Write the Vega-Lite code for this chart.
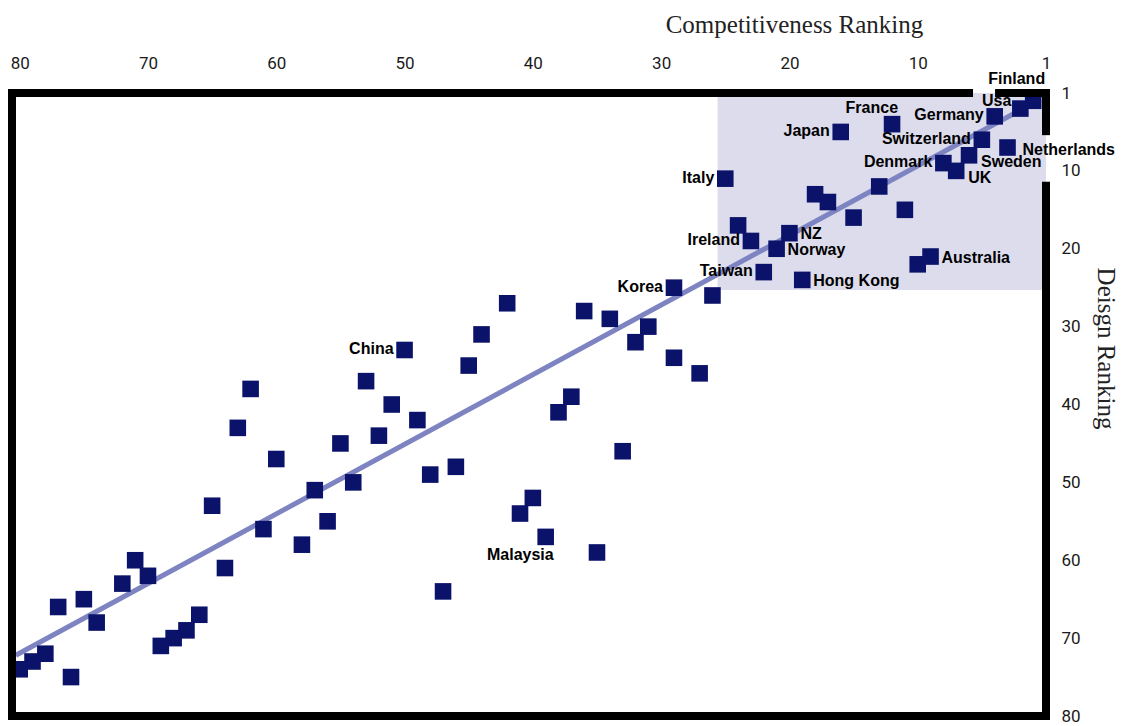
{
  "$schema": "https://vega.github.io/schema/vega-lite/v6.json",
  "width": 1034,
  "height": 623,
  "autosize": {"type": "none"},
  "padding": {"left": 12, "top": 93, "right": 76, "bottom": 10},
  "background": "white",
  "config": {"view": {"stroke": null}},
  "datasets": {
    "countries": [
      {"country": "Finland", "competitiveness": 1, "design": 1},
      {"country": "Usa", "competitiveness": 2, "design": 2},
      {"country": "Germany", "competitiveness": 4, "design": 3},
      {"country": "France", "competitiveness": 12, "design": 4},
      {"country": "Japan", "competitiveness": 16, "design": 5},
      {"country": "Switzerland", "competitiveness": 5, "design": 6},
      {"country": "Netherlands", "competitiveness": 3, "design": 7},
      {"country": "Sweden", "competitiveness": 6, "design": 8},
      {"country": "Denmark", "competitiveness": 8, "design": 9},
      {"country": "UK", "competitiveness": 7, "design": 10},
      {"country": "Italy", "competitiveness": 25, "design": 11},
      {"country": null, "competitiveness": 13, "design": 12},
      {"country": null, "competitiveness": 18, "design": 13},
      {"country": null, "competitiveness": 17, "design": 14},
      {"country": null, "competitiveness": 11, "design": 15},
      {"country": null, "competitiveness": 15, "design": 16},
      {"country": null, "competitiveness": 24, "design": 17},
      {"country": "NZ", "competitiveness": 20, "design": 18},
      {"country": "Ireland", "competitiveness": 23, "design": 19},
      {"country": "Norway", "competitiveness": 21, "design": 20},
      {"country": "Australia", "competitiveness": 9, "design": 21},
      {"country": null, "competitiveness": 10, "design": 22},
      {"country": "Taiwan", "competitiveness": 22, "design": 23},
      {"country": "Hong Kong", "competitiveness": 19, "design": 24},
      {"country": "Korea", "competitiveness": 29, "design": 25},
      {"country": null, "competitiveness": 26, "design": 26},
      {"country": null, "competitiveness": 42, "design": 27},
      {"country": null, "competitiveness": 36, "design": 28},
      {"country": null, "competitiveness": 34, "design": 29},
      {"country": null, "competitiveness": 31, "design": 30},
      {"country": null, "competitiveness": 44, "design": 31},
      {"country": null, "competitiveness": 32, "design": 32},
      {"country": "China", "competitiveness": 50, "design": 33},
      {"country": null, "competitiveness": 29, "design": 34},
      {"country": null, "competitiveness": 45, "design": 35},
      {"country": null, "competitiveness": 27, "design": 36},
      {"country": null, "competitiveness": 53, "design": 37},
      {"country": null, "competitiveness": 62, "design": 38},
      {"country": null, "competitiveness": 37, "design": 39},
      {"country": null, "competitiveness": 51, "design": 40},
      {"country": null, "competitiveness": 38, "design": 41},
      {"country": null, "competitiveness": 49, "design": 42},
      {"country": null, "competitiveness": 63, "design": 43},
      {"country": null, "competitiveness": 52, "design": 44},
      {"country": null, "competitiveness": 55, "design": 45},
      {"country": null, "competitiveness": 33, "design": 46},
      {"country": null, "competitiveness": 60, "design": 47},
      {"country": null, "competitiveness": 46, "design": 48},
      {"country": null, "competitiveness": 48, "design": 49},
      {"country": null, "competitiveness": 54, "design": 50},
      {"country": null, "competitiveness": 57, "design": 51},
      {"country": null, "competitiveness": 40, "design": 52},
      {"country": null, "competitiveness": 65, "design": 53},
      {"country": null, "competitiveness": 41, "design": 54},
      {"country": null, "competitiveness": 56, "design": 55},
      {"country": null, "competitiveness": 61, "design": 56},
      {"country": "Malaysia", "competitiveness": 39, "design": 57},
      {"country": null, "competitiveness": 58, "design": 58},
      {"country": null, "competitiveness": 35, "design": 59},
      {"country": null, "competitiveness": 71, "design": 60},
      {"country": null, "competitiveness": 64, "design": 61},
      {"country": null, "competitiveness": 70, "design": 62},
      {"country": null, "competitiveness": 72, "design": 63},
      {"country": null, "competitiveness": 47, "design": 64},
      {"country": null, "competitiveness": 75, "design": 65},
      {"country": null, "competitiveness": 77, "design": 66},
      {"country": null, "competitiveness": 66, "design": 67},
      {"country": null, "competitiveness": 74, "design": 68},
      {"country": null, "competitiveness": 67, "design": 69},
      {"country": null, "competitiveness": 68, "design": 70},
      {"country": null, "competitiveness": 69, "design": 71},
      {"country": null, "competitiveness": 78, "design": 72},
      {"country": null, "competitiveness": 79, "design": 73},
      {"country": null, "competitiveness": 80, "design": 74},
      {"country": null, "competitiveness": 76, "design": 75}
    ],
    "frame": [
      {"side": "top", "x1": 80.6, "x2": 6.0, "y1": 0, "y2": 0},
      {"side": "top", "x1": 3.66, "x2": 0, "y1": 0, "y2": 0},
      {"side": "right", "x1": 0, "x2": 0, "y1": 0, "y2": 4.9},
      {"side": "right", "x1": 0, "x2": 0, "y1": 11.9, "y2": 80},
      {"side": "bottom", "x1": 80.6, "x2": 0, "y1": 80, "y2": 80},
      {"side": "left", "x1": 80.6, "x2": 80.6, "y1": 0, "y2": 80}
    ]
  },
  "layer": [
    {
      "data": {"name": "countries"},
      "mark": {"type": "point", "shape": "square", "filled": true, "size": 275, "color": "#0a1269", "opacity": 0},
      "encoding": {
        "x": {
          "field": "competitiveness", "type": "quantitative",
          "scale": {"domain": [0, 80.6], "reverse": true, "nice": false, "zero": false},
          "axis": {
            "orient": "top", "values": [80, 70, 60, 50, 40, 30, 20, 10, 0],
            "labelExpr": "datum.value == 0 ? '1' : datum.label",
            "domain": false, "ticks": false, "tickSize": 0, "grid": false,
            "labelFont": "Roboto", "labelFontSize": 17, "labelColor": "#1a1a1a",
            "labelPadding": 21, "labelFlush": false, "labelOverlap": false,
            "title": "Competitiveness Ranking", "titleFont": "Liberation Serif", "titleFontSize": 25,
            "titleFontWeight": "normal", "titleColor": "#222222",
            "titleX": 782, "titleY": -61, "titleAlign": "center", "titleBaseline": "alphabetic"
          }
        },
        "y": {
          "field": "design", "type": "quantitative",
          "scale": {"domain": [0, 80], "reverse": true, "nice": false, "zero": false},
          "axis": {
            "orient": "right", "values": [0, 10, 20, 30, 40, 50, 60, 70, 80],
            "labelExpr": "datum.value == 0 ? '1' : datum.label",
            "domain": false, "ticks": false, "tickSize": 0, "grid": false,
            "labelFont": "Roboto", "labelFontSize": 17, "labelColor": "#1a1a1a",
            "labelPadding": 15, "labelFlush": false, "labelOverlap": false, "labelBaseline": "middle",
            "title": "Deisgn Ranking", "titleFont": "Liberation Serif", "titleFontSize": 25,
            "titleFontWeight": "normal", "titleColor": "#222222", "titleAngle": 90,
            "titleX": 59, "titleY": 255, "titleAlign": "center", "titleBaseline": "middle"
          }
        }
      }
    },
    {
      "data": {"values": [{}]},
      "mark": {"type": "rect", "color": "#dcdced"},
      "encoding": {
        "x": {"datum": 25.6, "type": "quantitative", "scale": {"domain": [0, 80.6], "reverse": true, "nice": false, "zero": false}},
        "x2": {"datum": 0},
        "y": {"datum": 0, "type": "quantitative", "scale": {"domain": [0, 80], "reverse": true, "nice": false, "zero": false}},
        "y2": {"datum": 25.3}
      }
    },
    {
      "data": {"values": [{}]},
      "mark": {"type": "rule", "color": "#7d84c1", "strokeWidth": 5},
      "encoding": {
        "x": {"datum": 80.3, "type": "quantitative", "scale": {"domain": [0, 80.6], "reverse": true, "nice": false, "zero": false}},
        "x2": {"datum": 1},
        "y": {"datum": 72.2, "type": "quantitative", "scale": {"domain": [0, 80], "reverse": true, "nice": false, "zero": false}},
        "y2": {"datum": 1.3}
      }
    },
    {
      "data": {"name": "countries"},
      "mark": {"type": "point", "shape": "square", "filled": true, "size": 275, "color": "#0a1269", "opacity": 1},
      "encoding": {
        "x": {"field": "competitiveness", "type": "quantitative", "scale": {"domain": [0, 80.6], "reverse": true, "nice": false, "zero": false}},
        "y": {"field": "design", "type": "quantitative", "scale": {"domain": [0, 80], "reverse": true, "nice": false, "zero": false}}
      }
    },
    {
      "data": {"name": "countries"},
      "transform": [{"filter": {"field": "country", "oneOf": ["Germany", "Japan", "Switzerland", "Denmark", "Italy", "Ireland", "Taiwan", "Korea", "China"]}}],
      "mark": {"type": "text", "align": "right", "baseline": "middle", "dx": -11, "dy": -1, "font": "Liberation Sans", "fontWeight": "bold", "fontSize": 16, "color": "#000000"},
      "encoding": {
        "x": {"field": "competitiveness", "type": "quantitative", "scale": {"domain": [0, 80.6], "reverse": true, "nice": false, "zero": false}},
        "y": {"field": "design", "type": "quantitative", "scale": {"domain": [0, 80], "reverse": true, "nice": false, "zero": false}},
        "text": {"field": "country"}
      }
    },
    {
      "data": {"name": "countries"},
      "transform": [{"filter": {"field": "country", "equal": "Usa"}}],
      "mark": {"type": "text", "align": "right", "baseline": "middle", "dx": -9, "dy": -8, "font": "Liberation Sans", "fontWeight": "bold", "fontSize": 16, "color": "#000000"},
      "encoding": {
        "x": {"field": "competitiveness", "type": "quantitative", "scale": {"domain": [0, 80.6], "reverse": true, "nice": false, "zero": false}},
        "y": {"field": "design", "type": "quantitative", "scale": {"domain": [0, 80], "reverse": true, "nice": false, "zero": false}},
        "text": {"field": "country"}
      }
    },
    {
      "data": {"name": "countries"},
      "transform": [{"filter": {"field": "country", "oneOf": ["NZ", "Norway", "Australia", "Hong Kong"]}}],
      "mark": {"type": "text", "align": "left", "baseline": "middle", "dx": 11, "dy": 1, "font": "Liberation Sans", "fontWeight": "bold", "fontSize": 16, "color": "#000000"},
      "encoding": {
        "x": {"field": "competitiveness", "type": "quantitative", "scale": {"domain": [0, 80.6], "reverse": true, "nice": false, "zero": false}},
        "y": {"field": "design", "type": "quantitative", "scale": {"domain": [0, 80], "reverse": true, "nice": false, "zero": false}},
        "text": {"field": "country"}
      }
    },
    {
      "data": {"name": "countries"},
      "transform": [{"filter": {"field": "country", "equal": "Netherlands"}}],
      "mark": {"type": "text", "align": "left", "baseline": "middle", "dx": 15, "dy": 2, "font": "Liberation Sans", "fontWeight": "bold", "fontSize": 16, "color": "#000000"},
      "encoding": {
        "x": {"field": "competitiveness", "type": "quantitative", "scale": {"domain": [0, 80.6], "reverse": true, "nice": false, "zero": false}},
        "y": {"field": "design", "type": "quantitative", "scale": {"domain": [0, 80], "reverse": true, "nice": false, "zero": false}},
        "text": {"field": "country"}
      }
    },
    {
      "data": {"name": "countries"},
      "transform": [{"filter": {"field": "country", "oneOf": ["Sweden", "UK"]}}],
      "mark": {"type": "text", "align": "left", "baseline": "middle", "dx": 12, "dy": 7, "font": "Liberation Sans", "fontWeight": "bold", "fontSize": 16, "color": "#000000"},
      "encoding": {
        "x": {"field": "competitiveness", "type": "quantitative", "scale": {"domain": [0, 80.6], "reverse": true, "nice": false, "zero": false}},
        "y": {"field": "design", "type": "quantitative", "scale": {"domain": [0, 80], "reverse": true, "nice": false, "zero": false}},
        "text": {"field": "country"}
      }
    },
    {
      "data": {"name": "countries"},
      "transform": [{"filter": {"field": "country", "equal": "France"}}],
      "mark": {"type": "text", "align": "right", "baseline": "middle", "dx": 6, "dy": -16, "font": "Liberation Sans", "fontWeight": "bold", "fontSize": 16, "color": "#000000"},
      "encoding": {
        "x": {"field": "competitiveness", "type": "quantitative", "scale": {"domain": [0, 80.6], "reverse": true, "nice": false, "zero": false}},
        "y": {"field": "design", "type": "quantitative", "scale": {"domain": [0, 80], "reverse": true, "nice": false, "zero": false}},
        "text": {"field": "country"}
      }
    },
    {
      "data": {"name": "countries"},
      "transform": [{"filter": {"field": "country", "equal": "Finland"}}],
      "mark": {"type": "text", "align": "right", "baseline": "middle", "dx": 12, "dy": -22, "font": "Liberation Sans", "fontWeight": "bold", "fontSize": 16, "color": "#000000"},
      "encoding": {
        "x": {"field": "competitiveness", "type": "quantitative", "scale": {"domain": [0, 80.6], "reverse": true, "nice": false, "zero": false}},
        "y": {"field": "design", "type": "quantitative", "scale": {"domain": [0, 80], "reverse": true, "nice": false, "zero": false}},
        "text": {"field": "country"}
      }
    },
    {
      "data": {"name": "countries"},
      "transform": [{"filter": {"field": "country", "equal": "Malaysia"}}],
      "mark": {"type": "text", "align": "right", "baseline": "middle", "dx": 8, "dy": 18, "font": "Liberation Sans", "fontWeight": "bold", "fontSize": 16, "color": "#000000"},
      "encoding": {
        "x": {"field": "competitiveness", "type": "quantitative", "scale": {"domain": [0, 80.6], "reverse": true, "nice": false, "zero": false}},
        "y": {"field": "design", "type": "quantitative", "scale": {"domain": [0, 80], "reverse": true, "nice": false, "zero": false}},
        "text": {"field": "country"}
      }
    },
    {
      "data": {"name": "frame"},
      "mark": {"type": "rule", "color": "#000000", "strokeWidth": 8, "strokeCap": "square"},
      "encoding": {
        "x": {"field": "x1", "type": "quantitative", "scale": {"domain": [0, 80.6], "reverse": true, "nice": false, "zero": false}},
        "x2": {"field": "x2"},
        "y": {"field": "y1", "type": "quantitative", "scale": {"domain": [0, 80], "reverse": true, "nice": false, "zero": false}},
        "y2": {"field": "y2"}
      }
    }
  ]
}
